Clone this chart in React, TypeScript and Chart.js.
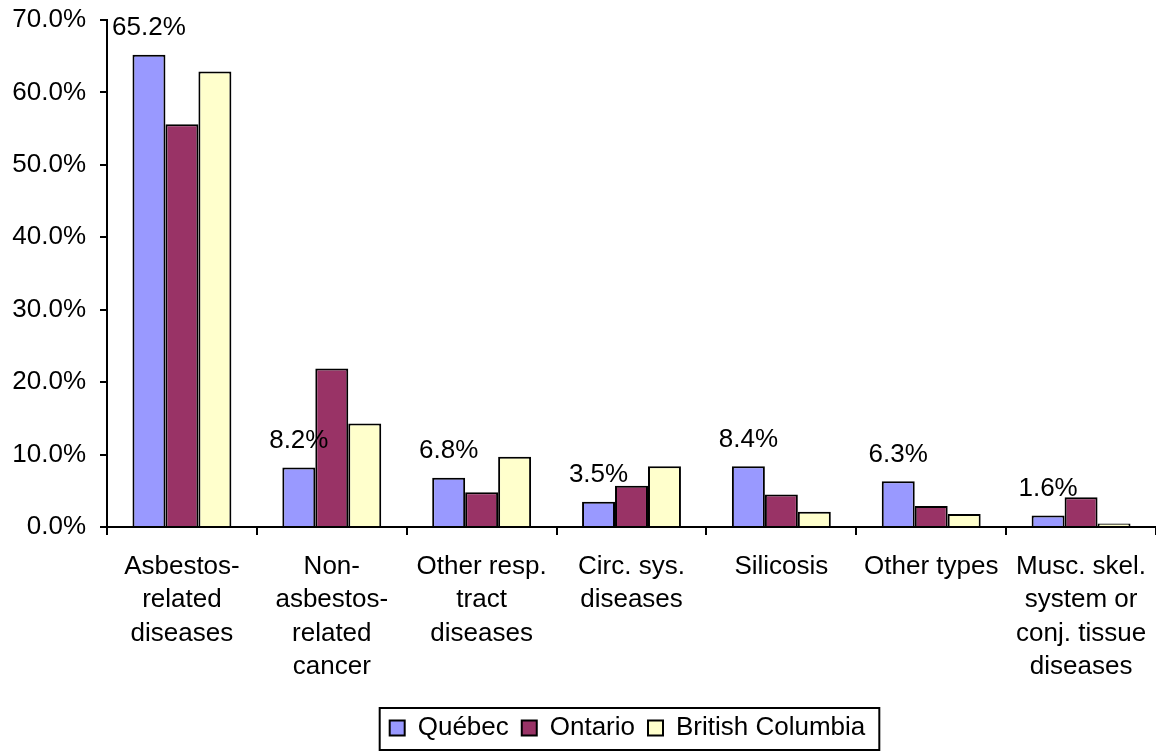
import React, { useEffect, useRef } from "react";
import { Chart, registerables } from "chart.js";

Chart.register(...registerables);

const categories: string[][] = [
  ["Asbestos-", "related", "diseases"],
  ["Non-", "asbestos-", "related", "cancer"],
  ["Other resp.", "tract", "diseases"],
  ["Circ. sys.", "diseases"],
  ["Silicosis"],
  ["Other types"],
  ["Musc. skel.", "system or", "conj. tissue", "diseases"],
];

const quebec = [65.2, 8.2, 6.8, 3.5, 8.4, 6.3, 1.6];
const ontario = [55.6, 21.9, 4.8, 5.7, 4.5, 2.9, 4.1];
const britishColumbia = [62.9, 14.3, 9.7, 8.4, 2.1, 1.8, 0.5];

const seriesNames = ["Québec", "Ontario", "British Columbia"];
const seriesColors = ["#9999FF", "#993366", "#FFFFCC"];

const yMin = 0;
const yMax = 70;
const yStep = 10;

const FONT = "'Liberation Sans', Arial, sans-serif";
const FS = 26;

const labelPlugin = {
  id: "qcLabels",
  afterDatasetsDraw(chart: any) {
    const ctx = chart.ctx;
    const meta = chart.getDatasetMeta(0);
    const data = chart.data.datasets[0].data as number[];
    ctx.save();
    ctx.font = `${FS}px ${FONT}`;
    ctx.fillStyle = "#000";
    ctx.textAlign = "center";
    ctx.textBaseline = "middle";
    meta.data.forEach((bar: any, i: number) => {
      ctx.fillText(data[i].toFixed(1) + "%", bar.x, bar.y - 26.5);
    });
    ctx.restore();
  },
};

const legendShiftPlugin = {
  id: "legendShift",
  afterLayout(chart: any) {
    const lg = chart.legend;
    if (!lg) return;
    const target = (chart.chartArea.left + chart.chartArea.right) / 2 - 4;
    const cur = (lg.left + lg.right) / 2;
    const d = target - cur;
    lg.left += d;
    lg.right += d;
  },
  afterDraw(chart: any) {
    const lg = chart.legend;
    if (!lg || !lg.legendHitBoxes || !lg.legendHitBoxes.length) return;
    const hb = lg.legendHitBoxes;
    const left = hb[0].left - 10;
    const last = hb[hb.length - 1];
    const right = last.left + last.width + 14;
    const ctx = chart.ctx;
    ctx.save();
    ctx.strokeStyle = "#000";
    ctx.lineWidth = 2;
    ctx.strokeRect(left, 708, right - left, 42);
    ctx.restore();
  },
};

export default function App() {
  const ref = useRef<HTMLCanvasElement | null>(null);

  useEffect(() => {
    if (!ref.current) return;
    const values = [quebec, ontario, britishColumbia];
    const chart = new Chart(ref.current, {
      type: "bar",
      data: {
        labels: categories,
        datasets: values.map((v, i) => ({
          label: seriesNames[i],
          data: v,
          backgroundColor: seriesColors[i],
          borderColor: "#000",
          borderWidth: 2,
          categoryPercentage: 0.66,
          barPercentage: 1.0,
        })),
      },
      options: {
        animation: false,
        responsive: false,
        maintainAspectRatio: false,
        devicePixelRatio: 1,
        layout: { padding: { top: 20, right: 0, left: 0, bottom: 0 } },
        plugins: {
          tooltip: { enabled: false },
          legend: {
            position: "bottom",
            labels: {
              boxWidth: 15,
              boxHeight: 15,
              padding: 13,
              color: "#000",
              font: { family: FONT, size: FS },
            },
          },
        },
        scales: {
          x: {
            grid: {
              display: true,
              drawOnChartArea: false,
              drawTicks: true,
              tickLength: 8,
              offset: true,
              color: "#000",
              lineWidth: 2,
            },
            border: { display: true, color: "#000", width: 2 },
            ticks: {
              color: "#000",
              font: { family: FONT, size: FS, lineHeight: 1.282 },
              padding: 15,
              autoSkip: false,
              maxRotation: 0,
              minRotation: 0,
            },
            afterFit(scale: any) {
              scale.height = 175;
              scale.paddingLeft = 0;
              scale.paddingRight = 0;
            },
          },
          y: {
            min: yMin,
            max: yMax,
            grid: {
              display: true,
              drawOnChartArea: false,
              drawTicks: true,
              tickLength: 7,
              color: "#000",
              lineWidth: 2,
            },
            border: { display: true, color: "#000", width: 2 },
            ticks: {
              stepSize: yStep,
              color: "#000",
              font: { family: FONT, size: FS },
              padding: 14,
              callback: (v: any) => Number(v).toFixed(1) + "%",
            },
            afterFit(scale: any) {
              scale.width = 107;
              scale.paddingTop = 0;
              scale.paddingBottom = 0;
            },
          },
        },
      },
      plugins: [labelPlugin, legendShiftPlugin],
    });
    return () => chart.destroy();
  }, []);

  return (
    <div style={{ position: "fixed", left: 0, top: 0, width: 1156, height: 751, background: "#fff" }}>
      <canvas ref={ref} width={1156} height={751} style={{ display: "block" }} />
    </div>
  );
}
